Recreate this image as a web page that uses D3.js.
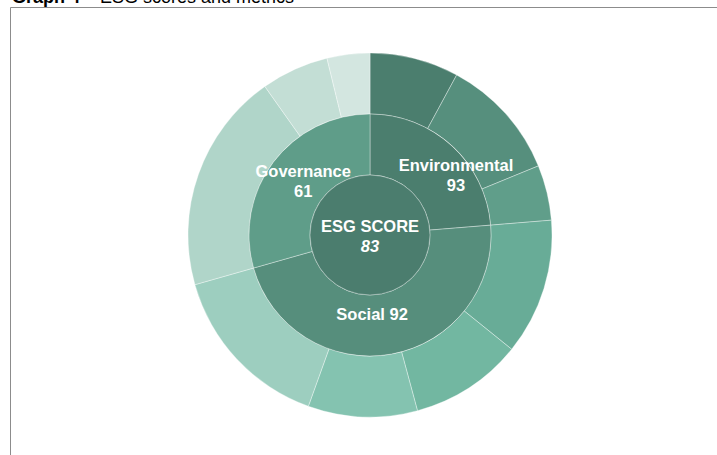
<!DOCTYPE html>
<html>
<head>
<meta charset="utf-8">
<script src="https://cdn.jsdelivr.net/npm/d3@7"></script>
<style>
  html, body { margin: 0; padding: 0; background: #fff; }
  svg { display: block; font-family: "Liberation Sans", Arial, sans-serif; }
</style>
</head>
<body>
<svg id="chart" width="717" height="455"></svg>
<script>
// ESG score breakdown: overall score, pillar scores and the weight of each metric
const esgLabel = "ESG SCORE";
const esgScore = 83;
const pillars = ["Environmental", "Social", "Governance"];
const pillarScores = [93, 92, 61];
const environmentalWeights = [7.9, 10.9, 4.9];
const socialWeights = [12.1, 10.0, 9.7, 15.1];
const governanceWeights = [19.6, 6.0, 3.8];

const centerColor = "#4b7d6e";
const pillarColors = ["#4b7e6e", "#568e7c", "#5f9d89"];
const metricColors = [
  ["#4b7e6e", "#568f7d", "#609e8a"],
  ["#68ac97", "#72b7a1", "#84c3b0", "#9dcebf"],
  ["#b0d5c9", "#c3ded5", "#d3e6e0"]
];

const metricGroups = [environmentalWeights, socialWeights, governanceWeights];

const svg = d3.select("#chart");
const W = 717, H = 455;
const cx = 370, cy = 235;
const rCenter = 60, rPillar = 121, rMetric = 182;

// Title and frame
const title = svg.append("text").attr("x", 12).attr("y", 3)
  .attr("font-size", 18).attr("fill", "#000");
title.append("tspan").attr("font-weight", "bold").text("Graph 4");
title.append("tspan").text(" \u2013 ESG scores and metrics");

svg.append("path")
  .attr("d", `M10.5,${H} V7.5 H${W}`)
  .attr("fill", "none").attr("stroke", "#8c8c8c").attr("stroke-width", 1);

const g = svg.append("g").attr("transform", `translate(${cx},${cy})`);

// Pillar ring: each pillar's span is the sum of its metric weights
const pillarTotals = metricGroups.map(d => d3.sum(d));
const pie = d3.pie().sort(null).value(d => d);
const pillarArcs = pie(pillarTotals);

// Metric ring
const metrics = [];
metricGroups.forEach((grp, i) => grp.forEach((w, j) =>
  metrics.push({ weight: w, color: metricColors[i][j] })));
const metricArcs = d3.pie().sort(null).value(d => d.weight)(metrics);

const outerArc = d3.arc().innerRadius(rPillar).outerRadius(rMetric);
const midArc = d3.arc().innerRadius(rCenter).outerRadius(rPillar);

g.selectAll("path.metric").data(metricArcs).join("path")
  .attr("class", "metric")
  .attr("d", outerArc)
  .attr("fill", d => d.data.color)
  .attr("stroke", "rgba(255,255,255,0.45)").attr("stroke-width", 0.8);

g.selectAll("path.pillar").data(pillarArcs).join("path")
  .attr("class", "pillar")
  .attr("d", midArc)
  .attr("fill", (d, i) => pillarColors[i])
  .attr("stroke", "rgba(255,255,255,0.45)").attr("stroke-width", 0.8);

g.append("circle").attr("r", rCenter)
  .attr("fill", centerColor)
  .attr("stroke", "rgba(255,255,255,0.45)").attr("stroke-width", 0.8);

// Labels
const labelStyle = sel => sel.attr("fill", "#fff").attr("font-weight", "bold")
  .attr("font-size", 16.5).attr("text-anchor", "middle");

g.append("text").call(labelStyle).attr("x", 0).attr("y", -3).text(esgLabel);
g.append("text").call(labelStyle).attr("font-style", "italic")
  .attr("x", 0).attr("y", 17).text(esgScore);

// label anchor per pillar (polar placement inside the pillar ring)
const pillarLabelPolar = [
  { r: 105, a: 55, twoLine: true },
  { r: 79, a: 178.5, twoLine: false },
  { r: 86, a: 309, twoLine: true }
];
pillarArcs.forEach((d, i) => {
  const p = pillarLabelPolar[i];
  const rad = p.a * Math.PI / 180;
  const x = p.r * Math.sin(rad), y = -p.r * Math.cos(rad);
  if (p.twoLine) {
    g.append("text").call(labelStyle).attr("x", x).attr("y", y - 4).text(pillars[i]);
    g.append("text").call(labelStyle).attr("x", x).attr("y", y + 16).text(pillarScores[i]);
  } else {
    g.append("text").call(labelStyle).attr("x", x).attr("y", y + 6)
      .text(`${pillars[i]} ${pillarScores[i]}`);
  }
});
</script>
</body>
</html>
